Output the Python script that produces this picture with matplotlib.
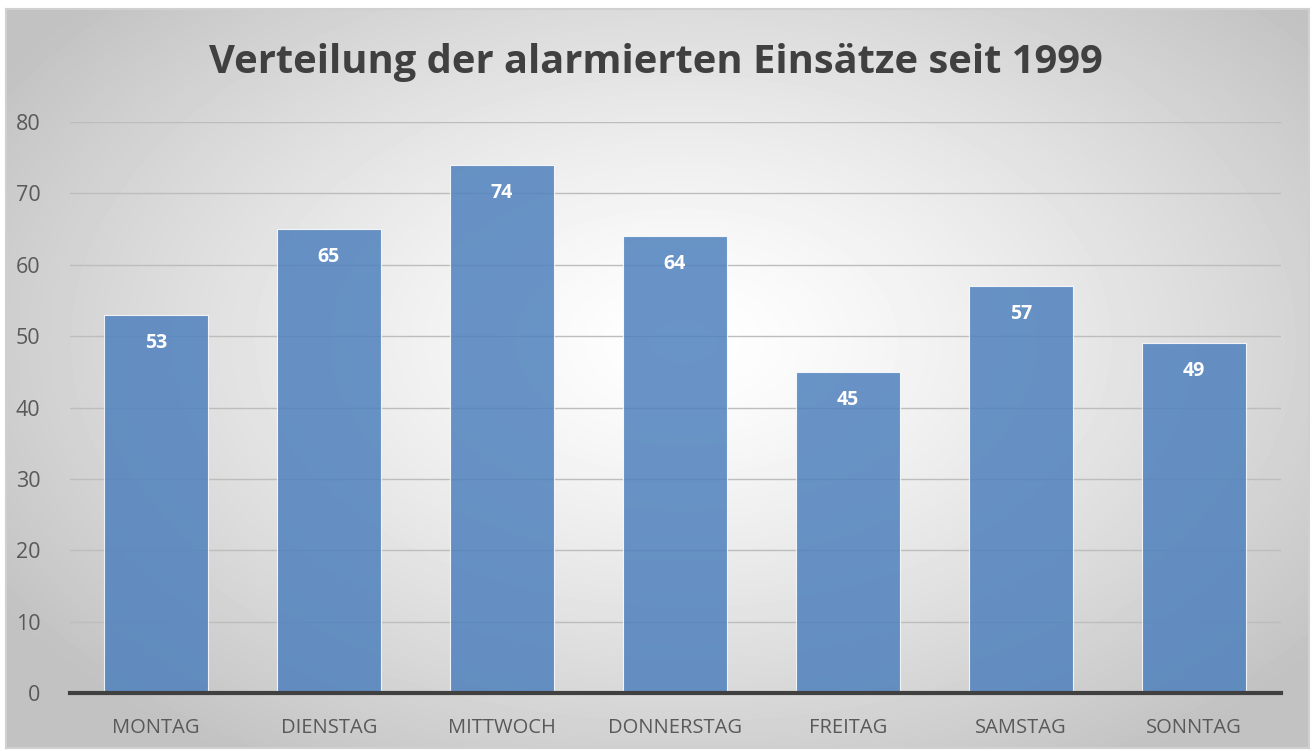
import numpy as np
import matplotlib
matplotlib.use("Agg")
import matplotlib.pyplot as plt

# data
tage = ["MONTAG", "DIENSTAG", "MITTWOCH", "DONNERSTAG", "FREITAG", "SAMSTAG", "SONNTAG"]
einsaetze = [53, 65, 74, 64, 45, 57, 49]
yticks = [0, 10, 20, 30, 40, 50, 60, 70, 80]

plt.rcParams['font.family'] = ['Open Sans', 'DejaVu Sans']

fig = plt.figure(figsize=(13.12, 7.51), dpi=100)
fig.patch.set_facecolor("white")

# background with radial gradient (chart area frame)
W, H = 1312, 751
x0, y0, x1, y1 = 6, 9, 1309, 748
bg = fig.add_axes([x0 / W, 1 - y1 / H, (x1 - x0) / W, (y1 - y0) / H], zorder=0)
gx, gy = np.meshgrid(np.linspace(0, 1, 400), np.linspace(0, 1, 240))
r = np.sqrt(((gx - 0.52) / 0.62) ** 2 + ((gy - 0.45) / 0.68) ** 2)
r = np.clip(r, 0, 1)
grad = 1.0 - 0.24 * r ** 1.3
bg.imshow(grad, cmap="gray", vmin=0, vmax=1, aspect="auto", extent=[0, 1, 0, 1],
          interpolation="bilinear")
bg.set_xticks([])
bg.set_yticks([])
for s in bg.spines.values():
    s.set_color("#d0d0d0")
    s.set_linewidth(1.5)

ax = fig.add_axes([69.5 / W, 1 - 693 / H, (1280.5 - 69.5) / W, (693 - 122) / H], zorder=1)
ax.patch.set_alpha(0)

x = np.arange(len(tage))
bars = ax.bar(x, einsaetze, width=0.6, color="#4f81bd", alpha=0.85,
              edgecolor="white", linewidth=0.8, zorder=3)

for xi, v in zip(x, einsaetze):
    ax.text(xi, v - 3.9, str(v), ha="center", va="center", color="white",
            fontsize=14, fontweight="bold", zorder=4)

ax.set_xlim(-0.5, len(tage) - 0.5)
ax.set_ylim(0, 80)
ax.set_yticks(yticks)
ax.set_xticks(x)
ax.set_xticklabels(tage)
ax.yaxis.grid(True, color="#bdbdbd", linewidth=1.0, zorder=1)
ax.set_axisbelow(True)
ax.tick_params(axis="both", length=0, colors="#595959", labelsize=14.5)
ax.tick_params(axis="y", pad=21, labelsize=15.5)
ax.tick_params(axis="x", pad=18)
for s in ["top", "right", "left"]:
    ax.spines[s].set_visible(False)
ax.spines["bottom"].set_color("#404040")
ax.spines["bottom"].set_linewidth(3)
ax.spines["bottom"].set_zorder(5)

fig.text(0.5, 1 - 62 / H, "Verteilung der alarmierten Einsätze seit 1999",
         ha="center", va="center", fontsize=28.7, fontweight="bold", color="#404040")

fig.savefig("out.png", dpi=100)
